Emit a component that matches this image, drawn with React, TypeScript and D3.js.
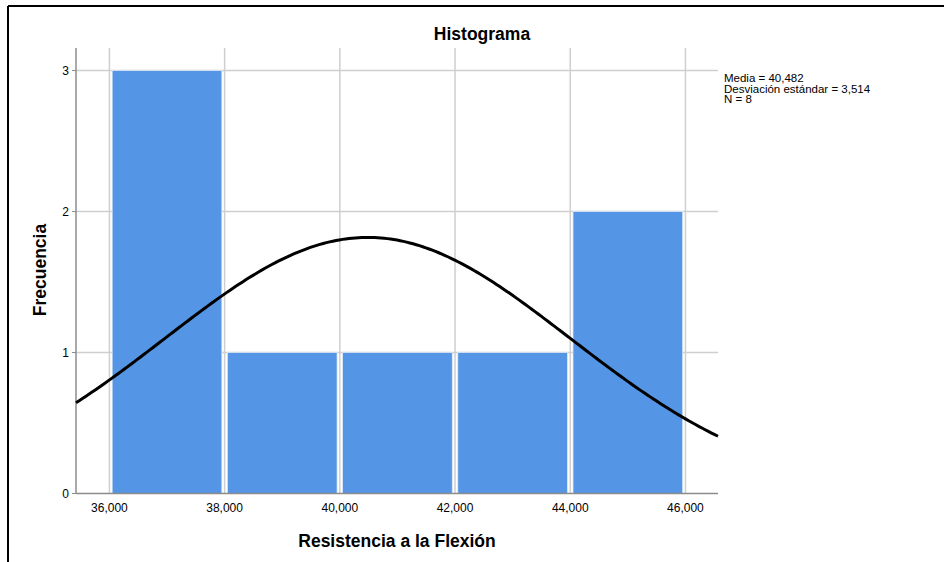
import React from "react";
import * as d3 from "d3";

// Histogram bins (lower edges) and their counts
const binStarts = [36, 38, 40, 42, 44];
const binWidth = 2;
const counts = [3, 1, 1, 1, 2];

// Axis ticks
const xTicks = [36, 38, 40, 42, 44, 46];
const yTicks = [0, 1, 2, 3];

// Summary statistics shown in the legend
const mean = 40.482;
const stdDev = 3.514;
const n = 8;

const W = 944;
const H = 562;
const FONT = "'Liberation Sans', Arial, sans-serif";

const fmtComma = (v: number) => d3.format(".3f")(v).replace(".", ",");

export default function App() {
  const x = d3.scaleLinear().domain([35.42, 46.565]).range([76, 718]);
  const y = d3.scaleLinear().domain([0, 3.16]).range([493.5, 48]);

  const bars = binStarts.map((b, i) => ({ x0: b, x1: b + binWidth, count: counts[i] }));

  // Normal curve scaled to histogram counts
  const [dMin, dMax] = x.domain();
  const curvePts = d3.range(0, 201).map((i) => {
    const v = dMin + ((dMax - dMin) * i) / 200;
    const z = (v - mean) / stdDev;
    const f = (n * binWidth) / (stdDev * Math.sqrt(2 * Math.PI)) * Math.exp(-0.5 * z * z);
    return [v, f] as [number, number];
  });
  const line = d3
    .line<[number, number]>()
    .x((d) => x(d[0]))
    .y((d) => y(d[1]))
    .curve(d3.curveLinear);

  const [xl, xr] = x.range();
  const [yb, yt] = y.range();
  const inset = 2.75;

  return (
    <svg
      width={W}
      height={H}
      style={{ position: "absolute", left: 0, top: 0, background: "#fff" }}
      fontFamily={FONT}
    >
      <rect x={0} y={0} width={W} height={H} fill="#fff" />
      {/* frame */}
      <line x1={8} y1={6} x2={W} y2={6} stroke="#000" strokeWidth={2} />
      <line x1={8} y1={6} x2={8} y2={H} stroke="#000" strokeWidth={2} />

      <text x={482} y={40} textAnchor="middle" fontSize={17.5} fontWeight="bold" fill="#000">
        Histograma
      </text>

      {/* gridlines */}
      {yTicks.filter((t) => t > 0).map((t) => (
        <line key={"gy" + t} x1={xl} x2={xr} y1={y(t)} y2={y(t)} stroke="#cfcfcf" strokeWidth={1.5} />
      ))}
      {xTicks.map((t) => (
        <line key={"gx" + t} x1={x(t)} x2={x(t)} y1={yt} y2={yb} stroke="#cfcfcf" strokeWidth={1.5} />
      ))}

      {/* bars */}
      {bars.map((b, i) => (
        <rect
          key={"b" + i}
          x={x(b.x0) + inset}
          y={y(b.count)}
          width={x(b.x1) - x(b.x0) - 2 * inset}
          height={y(0) - y(b.count)}
          fill="#5595e5"
          stroke="#dce8f8"
          strokeWidth={0.8}
        />
      ))}

      {/* axes */}
      <line x1={xl} x2={xl} y1={yt} y2={yb} stroke="#8c8c8c" strokeWidth={1.5} />
      <line x1={xl} x2={xr} y1={yb} y2={yb} stroke="#8c8c8c" strokeWidth={1.5} />
      {yTicks.map((t) => (
        <g key={"yt" + t}>
          <line x1={xl - 4} x2={xl} y1={y(t)} y2={y(t)} stroke="#8c8c8c" strokeWidth={1} />
          <text x={xl - 7} y={y(t)} dy="0.35em" textAnchor="end" fontSize={12} fill="#000">
            {t}
          </text>
        </g>
      ))}
      {xTicks.map((t) => (
        <text key={"xt" + t} x={x(t)} y={512} textAnchor="middle" fontSize={12} fill="#000">
          {fmtComma(t)}
        </text>
      ))}

      {/* normal curve */}
      <path d={line(curvePts) || ""} fill="none" stroke="#000" strokeWidth={3} />

      {/* axis titles */}
      <text x={397} y={547} textAnchor="middle" fontSize={17.5} fontWeight="bold" fill="#000">
        Resistencia a la Flexión
      </text>
      <text
        transform={`translate(46, 270) rotate(-90)`}
        textAnchor="middle"
        fontSize={17.5}
        fontWeight="bold"
        fill="#000"
      >
        Frecuencia
      </text>

      {/* legend */}
      <g fontSize={11.5} fill="#000">
        <text x={724} y={82}>{`Media = ${fmtComma(mean)}`}</text>
        <text x={724} y={92.5}>{`Desviación estándar = ${fmtComma(stdDev)}`}</text>
        <text x={724} y={103}>{`N = ${n}`}</text>
      </g>
    </svg>
  );
}
